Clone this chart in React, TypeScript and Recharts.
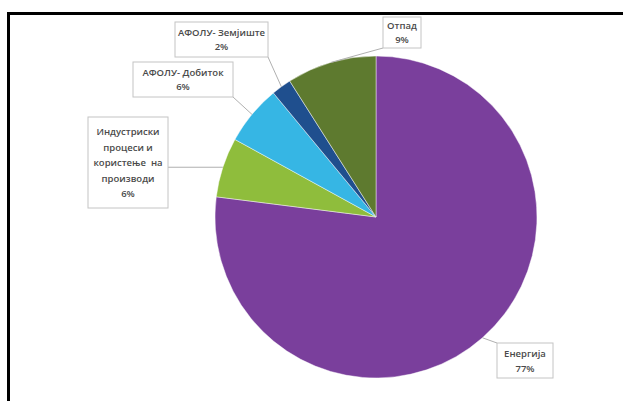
import { Pie, PieChart, Cell } from "recharts";

const categories = [
  "Енергија",
  "Индустриски процеси и користење  на производи",
  "АФОЛУ- Добиток",
  "АФОЛУ- Земјиште",
  "Отпад",
];
const shares = [77, 6, 6, 2, 9];
const labelLines = [
  ["Енергија", "77%"],
  ["Индустриски", "процеси и", "користење  на", "производи", "6%"],
  ["АФОЛУ- Добиток", "6%"],
  ["АФОЛУ- Земјиште", "2%"],
  ["Отпад", "9%"],
];

const colors = ["#7a3f9c", "#8fbd3c", "#36b6e4", "#1f4f8e", "#5e7a2f"];

// callout boxes as Excel placed them (layout only)
const boxes = [
  { x: 497, y: 343, w: 56, h: 35, lh: 15 },
  { x: 88, y: 117, w: 80, h: 91, lh: 15.5 },
  { x: 133, y: 62, w: 100, h: 35, lh: 13.5 },
  { x: 175, y: 22, w: 93, h: 35, lh: 14.5 },
  { x: 383, y: 17, w: 38, h: 31, lh: 14 },
];

const RADIAN = Math.PI / 180;

const data = categories.map((name, i) => ({ name, value: shares[i] }));

function clamp(v: number, lo: number, hi: number) {
  return Math.max(lo, Math.min(hi, v));
}

function Callout(props: any) {
  const { cx, cy, midAngle, outerRadius, index } = props;
  const ax = cx + outerRadius * Math.cos(-midAngle * RADIAN);
  const ay = cy + outerRadius * Math.sin(-midAngle * RADIAN);
  const b = boxes[index];
  const lines = labelLines[index];
  const px = clamp(ax, b.x, b.x + b.w);
  const py = clamp(ay, b.y, b.y + b.h);
  const textTop = b.y + (b.h - b.lh * (lines.length - 1)) / 2;
  return (
    <g>
      <line x1={ax} y1={ay} x2={px} y2={py} stroke="#b0b0b0" strokeWidth={1} />
      <rect x={b.x} y={b.y} width={b.w} height={b.h} fill="#ffffff" stroke="#c4c4c4" strokeWidth={1} />
      {lines.map((t, k) => (
        <text
          key={k}
          x={b.x + b.w / 2}
          y={textTop + k * b.lh}
          textAnchor="middle"
          dominantBaseline="central"
          fontSize={9.5}
          fontWeight={600}
          fontFamily="'Open Sans', 'Liberation Sans', sans-serif"
          fill="#4a4a4a"
          style={{ whiteSpace: "pre" }}
        >
          {t}
        </text>
      ))}
    </g>
  );
}

export default function App() {
  return (
    <div style={{ position: "absolute", left: 0, top: 0, width: 623, height: 401, background: "#ffffff" }}>
      <div
        style={{
          position: "absolute",
          left: 7,
          top: 12,
          width: 616,
          height: 389,
          borderTop: "3px solid #000",
          borderLeft: "3px solid #000",
          boxSizing: "border-box",
        }}
      />
      <div style={{ position: "absolute", left: 0, top: 0 }}>
        <PieChart width={623} height={401} margin={{ top: 0, right: 0, bottom: 0, left: 0 }}>
          <Pie
            data={data}
            dataKey="value"
            nameKey="name"
            cx={376}
            cy={217}
            outerRadius={161}
            startAngle={90}
            endAngle={-270}
            stroke="rgba(255,255,255,0.45)"
            strokeWidth={1}
            label={Callout}
            labelLine={false}
            isAnimationActive={false}
          >
            {data.map((d, i) => (
              <Cell key={d.name} fill={colors[i]} />
            ))}
          </Pie>
        </PieChart>
      </div>
    </div>
  );
}
